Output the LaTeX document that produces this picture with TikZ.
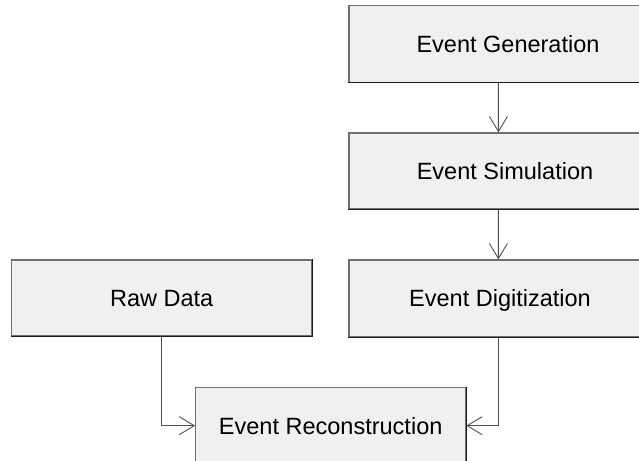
\documentclass[tikz,border=0pt]{standalone}
\usepackage{fontspec}
\setmainfont{Liberation Sans}
\usetikzlibrary{arrows.meta}
\definecolor{boxfill}{HTML}{F0F0F0}
\definecolor{boxline}{HTML}{707070}
\definecolor{boxdark}{HTML}{1A1A1A}
\definecolor{conn}{HTML}{505050}
\tikzset{
  pbox/.style={draw=boxline, fill=boxfill, line width=1.2bp, inner sep=0pt,
    font=\fontsize{23.6}{28}\selectfont, text height=16.9bp, text depth=0pt},
  shade edge/.style={draw=boxdark, line width=1.2bp},
  conarrow/.style={draw=conn, line width=1bp,
    -{Straight Barb[length=15bp,width=18bp,line width=0.9bp]}}
}
\begin{document}
\begin{tikzpicture}[x=1bp,y=-1bp]
\useasboundingbox (0,0) rectangle (639,461);
\clip (0,0) rectangle (639,461);
\fill[white] (0,0) rectangle (639,461);
\node[pbox, minimum width=318bp, minimum height=77bp] (gen) at (508,43.7) {Event Generation};
\node[pbox, minimum width=312bp, minimum height=76bp] (sim) at (505,171) {Event Simulation};
\node[pbox, minimum width=302bp, minimum height=77bp] (dig) at (500,298.5) {Event Digitization};
\node[pbox, minimum width=300bp, minimum height=76bp] (raw) at (161.7,298) {Raw Data};
\node[pbox, minimum width=270bp, minimum height=77bp] (rec) at (330.7,425.7) {Event Reconstruction};
\foreach \n in {gen,sim,dig,raw,rec}{
  \draw[shade edge] (\n.north east) -- (\n.south east) -- (\n.south west);
}
\draw[conarrow] ([xshift=150bp]gen.south west) -- ([xshift=150bp]sim.north west);
\draw[conarrow] ([xshift=150bp]sim.south west) -- ([xshift=150bp]dig.north west);
\draw[conarrow] (raw.south) |- (rec.west);
\draw[conarrow] ([xshift=150bp]dig.south west) |- (rec.east);
\end{tikzpicture}
\end{document}
